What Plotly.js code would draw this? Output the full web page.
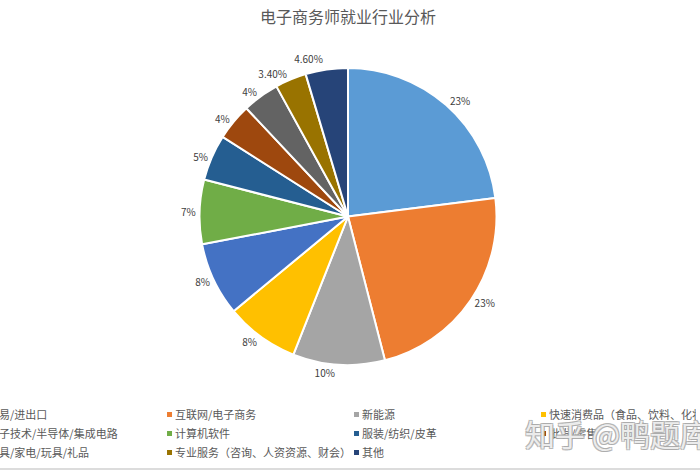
<!DOCTYPE html>
<html>
<head>
<meta charset="utf-8">
<script src="https://cdn.plot.ly/plotly-3.0.1.min.js"></script>
<style>
  html, body { margin: 0; padding: 0; overflow: hidden; background: #fff; }
  /* wider than the window so the legend is cut at both sides like the original */
  #chart { position: absolute; left: -60px; top: 0; width: 820px; height: 470px; }
  /* no leader lines on the outside labels in the original */
  #chart .textline { display: none; }
</style>
</head>
<body>
<div id="chart"></div>
<script>
const industries = [
  '贸易/进出口',
  '互联网/电子商务',
  '新能源',
  '快速消费品（食品、饮料、化妆品）',
  '电子技术/半导体/集成电路',
  '计算机软件',
  '服装/纺织/皮革',
  '批发/零售',
  '家具/家电/玩具/礼品',
  '专业服务（咨询、人资资源、财会）',
  '其他',
];
const shares = [23, 23, 10, 8, 8, 7, 5, 4, 4, 3.4, 4.6];
const shareLabels = ['23%', '23%', '10%', '8%', '8%', '7%', '5%', '4%', '4%', '3.40%', '4.60%'];
const sliceColors = [
  '#5B9BD5', '#ED7D31', '#A5A5A5', '#FFC000', '#4472C4', '#70AD47',
  '#255E91', '#9E480E', '#636363', '#997300', '#264478',
];

const FONT = '"Noto Sans CJK SC", "Noto Sans", sans-serif';

const trace = {
  type: 'pie',
  labels: industries,
  values: shares,
  text: shareLabels,
  textinfo: 'text',
  textposition: 'outside',
  outsidetextfont: { size: 10, color: '#404040', family: FONT },
  sort: false,
  direction: 'clockwise',
  rotation: 0,
  marker: {
    colors: sliceColors,
    line: { color: '#ffffff', width: 2 },
  },
  domain: { x: [0.2579, 0.6579], y: [0, 1] },
  hoverinfo: 'label+text',
};

const layout = {
  width: 820,
  height: 470,
  margin: { l: 60, r: 0, t: 68, b: 105, autoexpand: false },
  paper_bgcolor: '#ffffff',
  font: { family: FONT, color: '#595959' },
  title: {
    text: '电子商务师就业行业分析',
    xref: 'container',
    x: 408 / 820,
    xanchor: 'center',
    yref: 'container',
    y: 1 - 17 / 470,
    yanchor: 'middle',
    font: { size: 16, color: '#595959', family: FONT },
  },
  showlegend: true,
  legend: {
    orientation: 'h',
    x: -0.0684,
    xanchor: 'left',
    y: -0.1178,
    yanchor: 'top',
    entrywidth: 142,
    entrywidthmode: 'pixels',
    traceorder: 'normal',
    font: { size: 11, color: '#595959', family: FONT },
  },
  shapes: [{
    type: 'line',
    xref: 'paper',
    yref: 'paper',
    x0: -0.1,
    x1: 1,
    y0: -0.350,
    y1: -0.350,
    line: { color: '#d0d0d0', width: 1.5 },
  }],
  annotations: [{
    // site watermark over the legend
    text: '知乎 @鸭题库',
    xref: 'paper',
    yref: 'paper',
    x: 0.6875,
    y: -0.229,
    xanchor: 'left',
    yanchor: 'middle',
    showarrow: false,
    font: {
      size: 30,
      family: FONT,
      color: 'rgba(255,255,255,0.8)',
      shadow: '1px 1px 0 #a8a8a8, -1px -1px 0 #a8a8a8, 1px -1px 0 #a8a8a8, -1px 1px 0 #a8a8a8',
    },
  }],
};

Plotly.newPlot('chart', [trace], layout, { displayModeBar: false, staticPlot: true })
  .then(() => {
    // the original uses small legend squares sitting close to the text
    document.querySelectorAll('.legendpie').forEach((p) => {
      p.setAttribute('d', 'M18,3.5H11V-3.5H18Z');
    });
  });
</script>
</body>
</html>
